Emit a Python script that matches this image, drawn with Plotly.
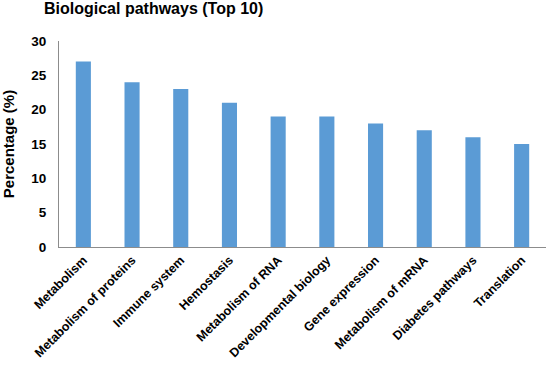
import plotly.graph_objects as go

categories = ["Metabolism", "Metabolism of proteins", "Immune system", "Hemostasis",
              "Metabolism of RNA", "Developmental biology", "Gene expression",
              "Metabolism of mRNA", "Diabetes pathways", "Translation"]
values = [27, 24, 23, 21, 19, 19, 18, 17, 16, 15]
y_ticks = [0, 5, 10, 15, 20, 25, 30]

FONT = "Arial, Liberation Sans, sans-serif"

fig = go.Figure(go.Bar(
    x=categories, y=values,
    marker=dict(color="#5B9BD5", line=dict(width=0)),
))

fig.update_layout(
    width=550, height=365,
    margin=dict(l=59, r=4, t=41, b=118),
    paper_bgcolor="white", plot_bgcolor="white",
    bargap=0.69,
    showlegend=False,
    font=dict(family=FONT, color="black"),
    annotations=[dict(
        text="<b>Biological pathways (Top 10)</b>",
        xref="paper", yref="paper", x=-0.0355, y=1.158,
        xanchor="left", yanchor="middle", showarrow=False,
        font=dict(family=FONT, size=16, color="black"),
    )],
)

fig.update_xaxes(
    tickangle=-45, automargin=False,
    tickfont=dict(family=FONT, size=12.5, color="black", weight="bold"),
    showline=True, linecolor="#8c8c8c", linewidth=1,
    ticks="", showgrid=False,
)
fig.update_yaxes(
    range=[0, 30], tickvals=y_ticks, automargin=False,
    ticklabelstandoff=9,
    tickfont=dict(family=FONT, size=13.5, color="black", weight="bold"),
    title=dict(text="Percentage (%)", font=dict(family=FONT, size=15, color="black", weight="bold"), standoff=14),
    showline=True, linecolor="#8c8c8c", linewidth=1,
    ticks="", showgrid=False, zeroline=False,
)

fig.write_html("out.html", config={"displayModeBar": False},
               post_script="document.body.style.margin='0';")
